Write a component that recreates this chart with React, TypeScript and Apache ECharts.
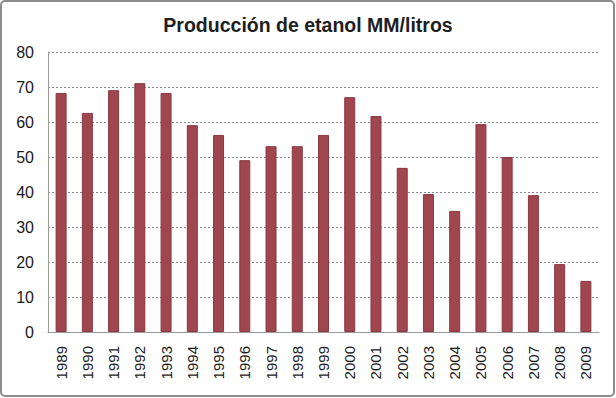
import React, { useEffect, useRef } from "react";
import * as echarts from "echarts";

const years = ["1989","1990","1991","1992","1993","1994","1995","1996","1997","1998","1999","2000","2001","2002","2003","2004","2005","2006","2007","2008","2009"];
const production = [68.3, 62.6, 69.1, 71.1, 68.3, 59.1, 56.3, 49.1, 53.1, 53.1, 56.3, 67.1, 61.7, 46.9, 39.4, 34.6, 59.4, 50.0, 39.1, 19.4, 14.6];
const yTicks = { min: 0, max: 80, interval: 10 };
const titleText = "Producción de etanol MM/litros";

export default function App() {
  const ref = useRef<HTMLDivElement>(null);
  useEffect(() => {
    const chart = echarts.init(ref.current!, null, { renderer: "svg" });
    chart.setOption({
      animation: false,
      backgroundColor: "#ffffff",
      textStyle: { fontFamily: "Liberation Sans, Arial, sans-serif" },
      title: {
        text: titleText,
        left: "center",
        top: 10,
        textStyle: { fontSize: 19.5, fontWeight: "bold", color: "#1e1e1e", fontFamily: "Liberation Sans, Arial, sans-serif" },
      },
      grid: { left: 48, right: 17, top: 52, bottom: 66, containLabel: false },
      xAxis: {
        type: "category",
        data: years,
        axisLine: { lineStyle: { color: "#9a9a9a", width: 1 } },
        axisTick: { show: false },
        axisLabel: { rotate: 90, fontSize: 15, color: "#1a1a1a", margin: 14, interval: 0 },
      },
      yAxis: {
        type: "value",
        min: yTicks.min,
        max: yTicks.max,
        interval: yTicks.interval,
        axisLine: { show: true, lineStyle: { color: "#9a9a9a" } },
        axisTick: { show: false },
        axisLabel: { fontSize: 16, color: "#1a1a1a", margin: 14 },
        splitLine: { lineStyle: { color: "#8a8a8a", type: [2, 2], width: 1 } },
      },
      series: [
        {
          type: "bar",
          data: production,
          barWidth: 11,
          itemStyle: { color: "#a0464f", borderColor: "#8a3842", borderWidth: 1 },
        },
      ],
      graphic: [
        {
          type: "rect",
          shape: { x: 1, y: 1, width: 613, height: 395, r: 4 },
          style: { fill: "none", stroke: "#8c8c8c", lineWidth: 2 },
          silent: true,
        },
      ],
    });
    return () => chart.dispose();
  }, []);
  return (
    <div style={{ position: "absolute", left: 0, top: 0 }}>
      <div ref={ref} style={{ width: 616, height: 398 }} />
    </div>
  );
}
